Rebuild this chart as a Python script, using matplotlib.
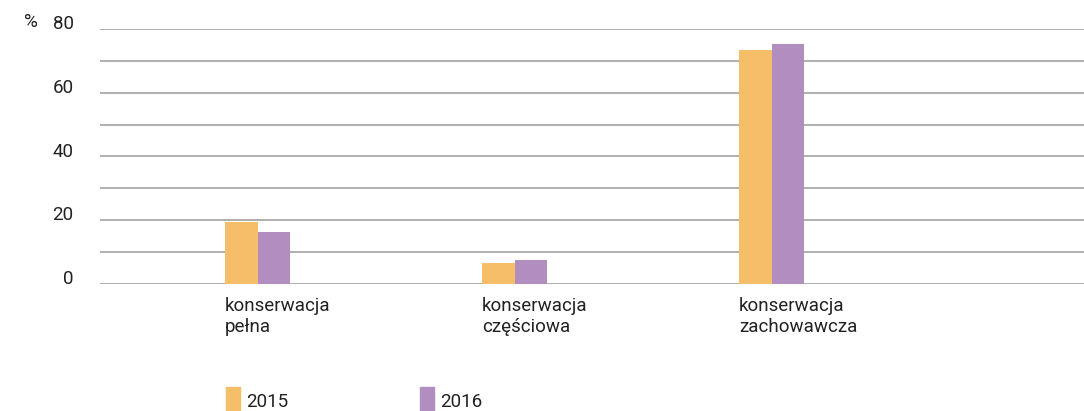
import matplotlib
matplotlib.use('Agg')
import matplotlib.pyplot as plt
import matplotlib.transforms as mtransforms
from matplotlib.patches import Patch
import numpy as np

plt.rcParams['font.family'] = ['Roboto', 'DejaVu Sans']

# Dane
categories = ['konserwacja\npełna', 'konserwacja\nczęściowa', 'konserwacja\nzachowawcza']
series_names = ['2015', '2016']
values_2015 = [19.4, 6.6, 73.4]
values_2016 = [16.3, 7.5, 75.2]
y_ticks = [0, 20, 40, 60, 80]

col_2015 = '#F7BE6A'
col_2016 = '#B28DC0'
grid_col = '#A8A8A8'

fig = plt.figure(figsize=(10.84, 4.11), dpi=100)
ax = fig.add_axes([100 / 1084, 1 - 284 / 411, 1 - 100 / 1084, 255 / 411])

x = np.arange(len(categories))
w = 0.127
ax.bar(x, values_2015, width=w, align='edge', color=col_2015, zorder=3)
ax.bar(x + w, values_2016, width=w, align='edge', color=col_2016, zorder=3)

ax.set_xlim(-0.486, 3.342)
ax.set_ylim(0, 80)

# Siatka co 10, etykiety co 20
ax.set_yticks(y_ticks)
ax.set_yticks(np.arange(10, 80, 20), minor=True)
ax.grid(axis='y', which='both', color=grid_col, linewidth=1.3, zorder=0)
ax.tick_params(axis='y', which='both', length=0, pad=19, labelsize=13.5, labelcolor='#222222')
offset = mtransforms.ScaledTranslation(0, 7 / 100, fig.dpi_scale_trans)
for lab in ax.get_yticklabels():
    lab.set_transform(lab.get_transform() + offset)

ax.set_xticks(x)
ax.set_xticklabels(categories, ha='left', fontsize=13.5, color='#222222', linespacing=1.25)
ax.tick_params(axis='x', length=0, pad=9)

for s in ax.spines.values():
    s.set_visible(False)

fig.text(31 / 1084, 1 - 22 / 411, '%', fontsize=13.5, color='#222222', ha='center', va='center')

handles = [Patch(color=col_2015), Patch(color=col_2016)]
fig.legend(handles, series_names, loc='lower left', bbox_to_anchor=(218.5 / 1084, -0.03),
           borderaxespad=0, ncol=2, frameon=False, fontsize=13.5, handlelength=0.75,
           handleheight=2.0, handletextpad=0.33, columnspacing=7.0, labelcolor='#222222')

fig.savefig('out.png', dpi=100)
